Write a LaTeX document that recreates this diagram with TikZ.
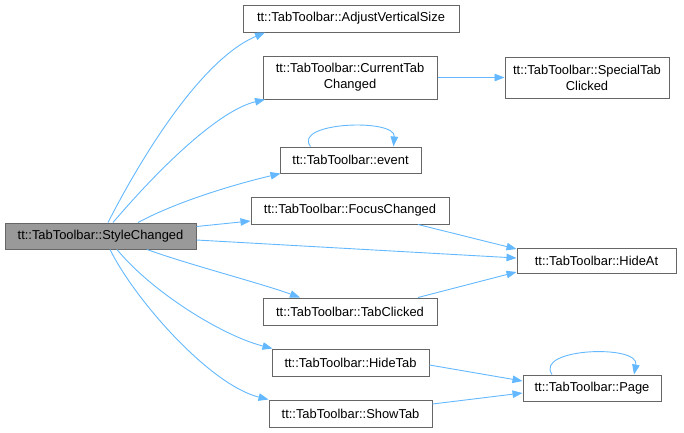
\documentclass[tikz,border=0pt]{standalone}
\usepackage{fontspec}
\setmainfont{Liberation Sans}
\usetikzlibrary{arrows.meta}
\definecolor{edgeblue}{HTML}{63B8FF}
\definecolor{boxgray}{HTML}{666666}
\definecolor{rootfill}{HTML}{999999}
\begin{document}
\begin{tikzpicture}[x=1pt,y=-1pt,
  fn/.style={draw=boxgray,line width=1pt,fill=white,inner sep=0pt,align=center,
    font=\fontsize{12.9}{16}\selectfont},
  rootfn/.style={fn,fill=rootfill},
  call/.style={draw=edgeblue,line width=0.9pt,-{Triangle[length=10pt,width=7.5pt]}}]
\useasboundingbox (0,0) rectangle (684,432);
\node[rootfn,minimum width=191pt,minimum height=26pt] (sc) at (100.5,236) {tt::TabToolbar::StyleChanged};
\node[fn,minimum width=216pt,minimum height=27pt] (avs) at (351,18.5) {tt::TabToolbar::AdjustVerticalSize};
\node[fn,minimum width=174pt,minimum height=43pt] (ctc) at (350,77.5) {tt::TabToolbar::CurrentTab\\Changed};
\node[fn,minimum width=141pt,minimum height=26pt] (ev) at (350.5,160) {tt::TabToolbar::event};
\node[fn,minimum width=198pt,minimum height=27pt] (fc) at (350,210.5) {tt::TabToolbar::FocusChanged};
\node[fn,minimum width=164pt,minimum height=41pt] (stc) at (587,77.5) {tt::TabToolbar::SpecialTab\\Clicked};
\node[fn,minimum width=159pt,minimum height=25pt] (ha) at (596.5,260.5) {tt::TabToolbar::HideAt};
\node[fn,minimum width=174pt,minimum height=27pt] (tc) at (350,311.5) {tt::TabToolbar::TabClicked};
\node[fn,minimum width=157pt,minimum height=27pt] (ht) at (350.5,362.5) {tt::TabToolbar::HideTab};
\node[fn,minimum width=163pt,minimum height=27pt] (st) at (350.5,413.5) {tt::TabToolbar::ShowTab};
\node[fn,minimum width=138pt,minimum height=26pt] (pg) at (592,388) {tt::TabToolbar::Page};
% edges from StyleChanged
\draw[call] ([xshift=7.5pt]sc.north) .. controls (140,160) and (200,60) .. ([xshift=-86pt]avs.south);
\draw[call] ([xshift=12.5pt]sc.north) .. controls (162,165) and (220,110) .. ([xshift=-85pt]ctc.south);
\draw[call] ([xshift=37.5pt]sc.north) .. controls (180,200) and (240,183) .. ([xshift=-70pt]ev.south);
\draw[call] (sc.east |- 0,226.5) -- (fc.west |- 0,221);
\draw[call] (sc.east |- 0,240) -- (ha.west |- 0,258);
\draw[call] ([xshift=46.5pt]sc.south) .. controls (190,265) and (260,283) .. ([xshift=-50pt]tc.north);
\draw[call] ([xshift=16.5pt]sc.south) .. controls (150,290) and (220,335) .. ([xshift=-78pt]ht.north);
\draw[call] ([xshift=9.5pt]sc.south) .. controls (135,300) and (210,385) .. ([xshift=-82pt]st.north);
% other edges
\draw[call] (ctc.east) -- (stc.west);
\draw[call] ([xshift=68pt]fc.south) -- (ha.west |- 0,249);
\draw[call] ([xshift=68pt]tc.north) -- (ha.west |- 0,272);
\draw[call] (ht.east |- 0,365) -- (pg.west |- 0,381);
\draw[call] (st.east |- 0,404) -- (pg.west |- 0,393);
% self loops
\draw[call] ([xshift=-40pt]ev.north) .. controls (292,122) and (396,118) .. ([xshift=43pt]ev.north);
\draw[call] ([xshift=-40pt]pg.north) .. controls (534,348) and (640,344) .. ([xshift=42pt]pg.north);
\end{tikzpicture}
\end{document}
